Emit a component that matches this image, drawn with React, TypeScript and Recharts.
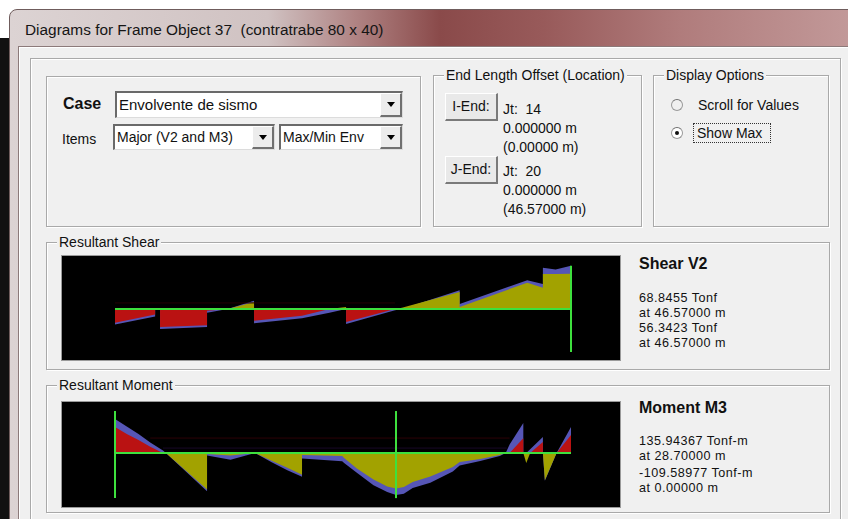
import { ComposedChart, Area, XAxis, YAxis, ReferenceLine } from "recharts";

// stations along the member, m (repeated station = jump in the diagram)
const shearStation = [0, 4.1, 4.1, 4.6, 4.6, 9.4, 9.4, 11.5, 14.2, 14.2, 19.1, 21.9, 23.6, 23.6, 28.6, 29.3, 35.2, 35.2, 42.1, 43.7, 43.7, 45.0, 46.57];
// V2, Tonf
const shearInner = [-22, -9, 0, 0, -29, -26, -3, 0, 11, -19, -11, 0, 3, -21, 0, 2, 27, 3, 42, 34, 56, 56, 56.34];
const shearOuter = [-25, -12, 0, 0, -32, -29, -6, 0, 13, -23, -15, -6, 0, -24, -2, 0, 30, 8, 46, 40, 66, 63, 68.85];

const momentStation = [0, 1.2, 2.4, 3.6, 4.9, 5.2, 9.4, 9.4, 11.8, 14.3, 16.0, 17.6, 19.1, 19.1, 23.2, 23.4, 24.7, 26.4, 27.8, 28.7, 29.5, 30.4, 32.2, 34.5, 35.2, 37.3, 39.3, 39.9, 40.3, 41.7, 41.7, 42.0, 42.4, 43.7, 43.7, 43.9, 45.1, 46.57];
// M3, Tonf-m
const momentInner = [-84, -62, -42, -20, 0, 0, 118, 3, 8, 0, 25, 48, 70, 6, 10, 16, 50, 86, 108, 115, 110, 94, 76, 45, 29, 19, 6, 0, 0, -48, 0, 32, 0, -36, 0, 88, 0, -58];
const momentOuter = [-110, -86, -62, -34, -8, 0, 124, 8, 22, 0, 30, 56, 77, 18, 27, 32, 64, 104, 126, 135.94, 132, 113, 96, 60, 40, 26, 10, 0, -28, -97, 0, 0, -12, -52, 0, 90, 0, -84];

const LENGTH = 46.57;
const shearMarkers = [46.57];
const momentMarkers = [0, 28.7];

const shearInfo = ["68.8455 Tonf", "at 46.57000 m", "56.3423 Tonf", "at 46.57000 m"];
const momentInfo = ["135.94367 Tonf-m", "at 28.70000 m", "-109.58977 Tonf-m", "at 0.00000 m"];

const GREEN = "#3ee03e";
const OLIVE = "#a2a200";
const RED = "#ba1212";
const BLUE = "#5656b6";
const PANEL = "#f0f0f0";
const FONT = '"Liberation Sans", Arial, sans-serif';

const Diagram = ({ station, inner, outer, height, domain, reversed, markers, span, faint }) => {
  const data = station.map((x, i) => ({
    x,
    outer: outer[i],
    pos: Math.max(inner[i], 0),
    neg: Math.min(inner[i], 0),
  }));
  return (
    <ComposedChart width={556} height={height} data={data} margin={{ top: 0, right: 48, bottom: 0, left: 52 }}>
      <XAxis dataKey="x" type="number" domain={[0, LENGTH]} hide />
      <YAxis type="number" domain={domain} reversed={reversed} hide allowDataOverflow />
      {faint.map((f, i) => (
        <ReferenceLine key={`f-${i}`} segment={[{ x: f.from, y: f.y }, { x: f.to, y: f.y }]} stroke={f.color} strokeWidth={1} />
      ))}
      <Area dataKey="outer" type="linear" fill={BLUE} fillOpacity={1} stroke="none" baseValue={0} dot={false} activeDot={false} isAnimationActive={false} />
      <Area dataKey="pos" type="linear" fill={OLIVE} fillOpacity={1} stroke="none" baseValue={0} dot={false} activeDot={false} isAnimationActive={false} />
      <Area dataKey="neg" type="linear" fill={RED} fillOpacity={1} stroke="none" baseValue={0} dot={false} activeDot={false} isAnimationActive={false} />
      <ReferenceLine segment={[{ x: 0, y: 0 }, { x: LENGTH, y: 0 }]} stroke={GREEN} strokeWidth={2} />
      {markers.map((m) => (
        <ReferenceLine key={`m-${m}`} segment={[{ x: m, y: span[0] }, { x: m, y: span[1] }]} stroke={GREEN} strokeWidth={2} />
      ))}
    </ComposedChart>
  );
};

const abs = (left, top, extra = {}) => ({ position: "absolute" as const, left, top, ...extra });

const Text = ({ left, cy, children, size = 14, bold = false, lh = 18, spacing = 0 }) => (
  <div style={abs(left, cy - lh / 2, { fontSize: size, lineHeight: `${lh}px`, letterSpacing: spacing, fontWeight: bold ? 700 : 400, whiteSpace: "nowrap", color: "#111" })}>
    {children}
  </div>
);

// value lines at the right of each diagram sit close together
const Info = ({ cy, children }) => (
  <Text left={639} cy={cy} size={12.6} lh={13} spacing={0.5}>
    {children}
  </Text>
);

const GroupBox = ({ left, top, width, height, title }) => (
  <div style={abs(left, top, { width, height, boxSizing: "border-box", border: "1px solid #a9a9a9", boxShadow: "inset 1px 1px 0 #fff, 1px 1px 0 #fff" })}>
    {title && (
      <div style={{ position: "absolute", left: 10, top: -10, padding: "0 2px", background: PANEL, fontSize: 14, lineHeight: "18px", whiteSpace: "nowrap", color: "#111" }}>
        {title}
      </div>
    )}
  </div>
);

const Combo = ({ left, top, width, height = 26, text, size = 14 }) => (
  <div style={abs(left, top, { width, height, boxSizing: "border-box", background: "#fff", borderTop: "2px solid #6a6a6a", borderLeft: "2px solid #6a6a6a", borderRight: "1px solid #dcdcdc", borderBottom: "1px solid #dcdcdc" })}>
    <div style={{ position: "absolute", left: 2, top: 0, lineHeight: `${height - 3}px`, fontSize: size, whiteSpace: "nowrap", color: "#111" }}>{text}</div>
    <div style={{ position: "absolute", right: 0, top: 0, width: 22, height: height - 3, boxSizing: "border-box", background: "#ececec", borderTop: "1px solid #fff", borderLeft: "1px solid #fff", borderRight: "2px solid #707070", borderBottom: "2px solid #707070" }}>
      <div style={{ position: "absolute", left: 6, top: 8, width: 0, height: 0, borderLeft: "4px solid transparent", borderRight: "4px solid transparent", borderTop: "5px solid #000" }} />
    </div>
  </div>
);

const Button = ({ left, top, text }) => (
  <div style={abs(left, top, { width: 53, height: 28, boxSizing: "border-box", background: "#e9e9e9", borderTop: "1px solid #fff", borderLeft: "1px solid #fff", borderRight: "2px solid #7a7a7a", borderBottom: "2px solid #7a7a7a", fontSize: 14, lineHeight: "25px", textAlign: "center", color: "#111" })}>
    {text}
  </div>
);

const Radio = ({ cx, cy, checked }) => (
  <div style={abs(cx - 6, cy - 6, { width: 12, height: 12, borderRadius: 6, boxSizing: "border-box", border: "1px solid #9a9a9a", borderTopColor: "#707070", background: checked ? "#fff" : "transparent" })}>
    {checked && <div style={{ position: "absolute", left: 3, top: 3, width: 4, height: 4, borderRadius: 2, background: "#111" }} />}
  </div>
);

export default function App() {
  return (
    <div style={abs(0, 0, { width: 848, height: 519, overflow: "hidden", background: "#fff", fontFamily: FONT })}>
      {/* desktop edge and window frame */}
      <div style={abs(0, 38, { width: 9, height: 481, background: "#111" })} />
      <div
        style={abs(9, 9, {
          width: 860,
          height: 520,
          borderTopLeftRadius: 8,
          border: "1px solid #6f5c5c",
          background: "linear-gradient(90deg, #dcd3d3 0%, #d0c2c2 30%, #b08484 40%, #8a4a4a 50%, #985a5a 62%, #b07c7c 78%, #c49c9c 100%)",
        })}
      />
      <div style={abs(25, 21, { fontSize: 15.4, lineHeight: "18px", color: "#151515", whiteSpace: "nowrap" })}>
        Diagrams for Frame Object 37&nbsp; (contratrabe 80 x 40)
      </div>

      {/* client area */}
      <div style={abs(18, 46, { width: 840, height: 480, background: PANEL, border: "1px solid #8c7a7a", boxShadow: "inset 1px 1px 0 #fff" })} />
      <GroupBox left={30} top={58} width={811} height={470} />

      {/* case */}
      <GroupBox left={46} top={76} width={375} height={151} />
      <Text left={63} cy={104} size={16} bold>Case</Text>
      <Combo left={115} top={91} width={288} height={27} text="Envolvente de sismo" size={15} />
      <Text left={62} cy={139}>Items</Text>
      <Combo left={113} top={124} width={162} text="Major (V2 and M3)" />
      <Combo left={279} top={124} width={124} text="Max/Min Env" />

      {/* end offsets */}
      <GroupBox left={433} top={75} width={209} height={152} title="End Length Offset (Location)" />
      <Button left={445} top={93} text="I-End:" />
      <Text left={503} cy={109}>Jt:&nbsp; 14</Text>
      <Text left={503} cy={128}>0.000000 m</Text>
      <Text left={503} cy={147}>(0.00000 m)</Text>
      <Button left={445} top={156} text="J-End:" />
      <Text left={503} cy={171}>Jt:&nbsp; 20</Text>
      <Text left={503} cy={190}>0.000000 m</Text>
      <Text left={503} cy={209}>(46.57000 m)</Text>

      {/* display options */}
      <GroupBox left={653} top={75} width={176} height={152} title="Display Options" />
      <Radio cx={677} cy={105} checked={false} />
      <Text left={698} cy={105}>Scroll for Values</Text>
      <Radio cx={677} cy={133} checked />
      <div style={abs(693, 123, { width: 78, height: 20, boxSizing: "border-box", border: "1px dotted #333" })} />
      <Text left={697} cy={133}>Show Max</Text>

      {/* shear */}
      <GroupBox left={46} top={242} width={784} height={128} title="Resultant Shear" />
      <div style={abs(62, 256, { width: 558, height: 104, background: "#000", boxShadow: "0 0 0 1px #9a9a9a" })}>
        <div style={{ position: "absolute", left: 1, top: 1 }}>
          <Diagram
            station={shearStation}
            inner={shearInner}
            outer={shearOuter}
            height={102}
            domain={[-80, 83]}
            reversed={false}
            markers={shearMarkers}
            span={[-68.85, 68.85]}
            faint={[{ from: 0, to: 28.6, y: 9.6, color: "#240004" }]}
          />
        </div>
      </div>
      <Text left={639} cy={264} size={16} bold>Shear V2</Text>
      <Info cy={298}>{shearInfo[0]}</Info>
      <Info cy={313}>{shearInfo[1]}</Info>
      <Info cy={328}>{shearInfo[2]}</Info>
      <Info cy={343}>{shearInfo[3]}</Info>

      {/* moment */}
      <GroupBox left={46} top={385} width={784} height={128} title="Resultant Moment" />
      <div style={abs(62, 402, { width: 558, height: 105, background: "#000", boxShadow: "0 0 0 1px #9a9a9a" })}>
        <div style={{ position: "absolute", left: 1, top: 1 }}>
          <Diagram
            station={momentStation}
            inner={momentInner}
            outer={momentOuter}
            height={103}
            domain={[-162, 171.5]}
            reversed
            markers={momentMarkers}
            span={[-136, 146]}
            faint={[
              { from: 3.6, to: 40.3, y: -48.5, color: "#2c0006" },
              { from: 4.9, to: 40.0, y: -16, color: "#180828" },
            ]}
          />
        </div>
      </div>
      <Text left={639} cy={408} size={16} bold>Moment M3</Text>
      <Info cy={441}>{momentInfo[0]}</Info>
      <Info cy={456}>{momentInfo[1]}</Info>
      <Info cy={473}>{momentInfo[2]}</Info>
      <Info cy={488}>{momentInfo[3]}</Info>
    </div>
  );
}
